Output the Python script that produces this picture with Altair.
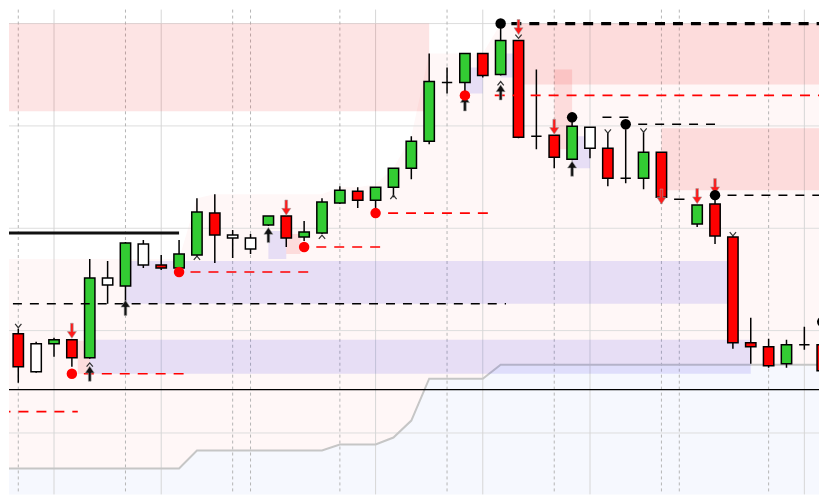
import altair as alt
import pandas as pd

# ---------------- data ----------------
bar = list(range(47))
kind = ["r", "r", "w", "g", "r", "g", "w", "g", "w", "r", "g", "g", "r", "w", "w", "g",
        "r", "g", "g", "g", "r", "g", "g", "g", "g", "w", "g", "r", "g", "r", "w", "r",
        "g", "w", "r", "w", "g", "r", "w", "g", "r", "r", "r", "r", "g", "w", "r"]
open_ = [1.1174, 1.1169, 1.1131, 1.1159, 1.1163, 1.1145, 1.1218, 1.1217, 1.1238, 1.1238,
         1.1235, 1.1248, 1.1290, 1.1265, 1.1254, 1.1278, 1.1287, 1.1266, 1.1270, 1.1300,
         1.1312, 1.1303, 1.1316, 1.1335, 1.1362, 1.1421, 1.1421, 1.1450, 1.1429, 1.1463,
         1.1367, 1.1368, 1.1344, 1.1355, 1.1355, 1.1325, 1.1325, 1.1351, 1.1304, 1.1279,
         1.1299, 1.1266, 1.1160, 1.1156, 1.1139, 1.1158, 1.1158]
high = [1.1176, 1.1174, 1.1161, 1.1165, 1.1163, 1.1244, 1.1242, 1.1261, 1.1263, 1.1248,
        1.1263, 1.1305, 1.1309, 1.1273, 1.1269, 1.1287, 1.1287, 1.1282, 1.1305, 1.1317,
        1.1316, 1.1316, 1.1335, 1.1367, 1.1450, 1.1436, 1.1450, 1.1450, 1.1476, 1.1463,
        1.1434, 1.1368, 1.1382, 1.1376, 1.1371, 1.1374, 1.1371, 1.1351, 1.1304, 1.1298,
        1.1304, 1.1267, 1.1185, 1.1164, 1.1163, 1.1176, 1.1177]
low = [1.1168, 1.1120, 1.1130, 1.1146, 1.1136, 1.1144, 1.1199, 1.1202, 1.1235, 1.1233,
       1.1234, 1.1246, 1.1240, 1.1245, 1.1249, 1.1277, 1.1256, 1.1262, 1.1269, 1.1299,
       1.1295, 1.1295, 1.1306, 1.1324, 1.1359, 1.1410, 1.1412, 1.1426, 1.1428, 1.1365,
       1.1354, 1.1335, 1.1343, 1.1345, 1.1317, 1.1320, 1.1314, 1.1299, 1.1304, 1.1276,
       1.1259, 1.1154, 1.1139, 1.1135, 1.1135, 1.1153, 1.1129]
close = [1.1169, 1.1136, 1.1159, 1.1163, 1.1145, 1.1225, 1.1225, 1.1260, 1.1259, 1.1235,
         1.1249, 1.1291, 1.1268, 1.1268, 1.1265, 1.1287, 1.1265, 1.1271, 1.1301, 1.1313,
         1.1303, 1.1316, 1.1335, 1.1362, 1.1422, 1.1421, 1.1450, 1.1428, 1.1463, 1.1366,
         1.1367, 1.1346, 1.1377, 1.1376, 1.1325, 1.1325, 1.1351, 1.1306, 1.1304, 1.1298,
         1.1267, 1.1160, 1.1156, 1.1137, 1.1158, 1.1158, 1.1132]

# cloud boundaries per bar (0..47)
cloud_bar = list(range(48))
cloud_upper = [1.1244, 1.1244, 1.1244, 1.1244, 1.1244, 1.1244, 1.1244, 1.1244, 1.1244, 1.1244,
               1.1244, 1.1305, 1.1309, 1.1309, 1.1309, 1.1309, 1.1309, 1.1309, 1.1309, 1.1316,
               1.1316, 1.1319, 1.1335, 1.1367, 1.1450, 1.1450, 1.1450, 1.1450, 1.1480, 1.1480,
               1.1480, 1.1480, 1.1480, 1.1480, 1.1480, 1.1480, 1.1480, 1.1480, 1.1480, 1.1480,
               1.1480, 1.1480, 1.1480, 1.1480, 1.1480, 1.1480, 1.1480, 1.1480]
cloud_lower = [1.1034, 1.1034, 1.1034, 1.1034, 1.1034, 1.1034, 1.1034, 1.1034, 1.1034, 1.1034,
               1.1034, 1.1052, 1.1052, 1.1052, 1.1052, 1.1052, 1.1052, 1.1052, 1.1052, 1.1058,
               1.1058, 1.1058, 1.1065, 1.1082, 1.1124, 1.1124, 1.1124, 1.1124, 1.1138, 1.1138,
               1.1138, 1.1138, 1.1138, 1.1138, 1.1138, 1.1138, 1.1138, 1.1138, 1.1138, 1.1138,
               1.1138, 1.1138, 1.1138, 1.1138, 1.1138, 1.1138, 1.1138, 1.1138]

# supply (pink) and demand (lavender) zones
zone_x0 = [-1, 29, 31, 37, 4.33, 16, 7, 5, 15, 26, 28, 32]
zone_x1 = [24, 47, 32, 47, 5, 16.8, 41, 42, 16, 27, 29, 33]
zone_top = [1.1480, 1.1480, 1.1434, 1.1375, 1.1162, 1.1269, 1.1242, 1.1163, 1.1272, 1.1436, 1.1450, 1.1367]
zone_bot = [1.1392, 1.1419, 1.1354, 1.1313, 1.1129, 1.1249, 1.1199, 1.1129, 1.1244, 1.1410, 1.1426, 1.1335]
zone_type = ["supply"] * 6 + ["demand"] * 6

# swing-high levels (black dashed)
hl_x0 = [0.7, 33.7, 35.7, 40.7]
hl_x1 = [28.3, 35.3, 40.2, 47]
hl_p = [1.1199, 1.1386, 1.1379, 1.1308]
major_x0 = [28.6]
major_x1 = [47]
major_p = [1.1480]
# swing-low levels (red dashed)
ll_x0 = [4.67, -1, 10.64, 17.68, 21.7, 27.67]
ll_x1 = [10.36, 4.33, 17.34, 21.36, 27.4, 47]
ll_p = [1.1129, 1.1091, 1.1231, 1.1256, 1.1290, 1.1408]

# swing dots
hi_dot_bar = [0, 28, 32, 35, 40, 46]
hi_dot_p = [1.1199, 1.1480, 1.1386, 1.1379, 1.1308, 1.1181]
lo_dot_bar = [4, 10, 17, 21, 26]
lo_dot_p = [1.1129, 1.1231, 1.1256, 1.1290, 1.1408]

# signal arrows
dn_bar = [4, 16, 29, 31, 37, 39, 40]
dn_p = [1.1172, 1.12955, 1.14765, 1.13765, 1.13065, 1.1307, 1.1317]
up_bar = [5, 7, 15, 26, 28, 32]
up_p = [1.1129, 1.1195, 1.1268, 1.1400, 1.1411, 1.13345]

# fractal chevrons
chev_up_bar = [5, 11, 18, 22, 28]
chev_up_p = [1.1138, 1.1245, 1.1266, 1.1306, 1.1420]
chev_dn_bar = [1, 29, 34, 36, 41]
chev_dn_p = [1.1177, 1.1467, 1.1372, 1.1373, 1.1269]

# grid
grid_p = [1.1480, 1.13774, 1.12748, 1.11722, 1.10696]
vgrid_solid = [3, 9, 21, 27, 33, 45]
vgrid_dash = [1, 7, 13, 14, 19, 25, 31, 37, 38, 43]
base_level = 1.1113
range_level = 1.1270
range_x = [-1, 10]

# ---------------- chart ----------------
xs = alt.Scale(domain=[0.48, 45.82], nice=False, zero=False)
ys = alt.Scale(domain=[1.1008, 1.1494], nice=False, zero=False)


def X(f):
    return alt.X(f, type="quantitative", scale=xs, axis=None)


def Y(f):
    return alt.Y(f, type="quantitative", scale=ys, axis=None)


candles = pd.DataFrame(dict(bar=bar, kind=kind, open=open_, high=high, low=low, close=close))
cloud = pd.DataFrame(dict(bar=cloud_bar, up=cloud_upper, lo=cloud_lower))
zones = pd.DataFrame(dict(x0=zone_x0, x1=zone_x1, top=zone_top, bot=zone_bot, t=zone_type))

pink_area = alt.Chart(cloud).mark_area(color="#fff7f7", clip=True).encode(
    x=X("bar"), y=Y("up"), y2="lo")
blue_area = alt.Chart(cloud).transform_calculate(bottom="1.09").mark_area(
    color="#f6f8fe", clip=True).encode(x=X("bar"), y=Y("lo"), y2="bottom:Q")

hgrid = alt.Chart(pd.DataFrame(dict(p=grid_p))).mark_rule(
    color="#dddddd", strokeWidth=1).encode(y=Y("p"))
vg_solid = alt.Chart(pd.DataFrame(dict(b=vgrid_solid))).mark_rule(
    color="#d6d6d6", strokeWidth=1).encode(x=X("b"))
vg_dash = alt.Chart(pd.DataFrame(dict(b=vgrid_dash))).mark_rule(
    color="#b5b5b5", strokeWidth=1, strokeDash=[3, 3]).encode(x=X("b"))

grey_line = alt.Chart(cloud).mark_line(color="#c6c6c6", strokeWidth=2, clip=True).encode(
    x=X("bar"), y=Y("lo"))

zone_layer = alt.Chart(zones).mark_rect(clip=True).encode(
    x=X("x0"), x2="x1", y=Y("top"), y2="bot",
    color=alt.Color("t:N", legend=None,
                    scale=alt.Scale(domain=["supply", "demand"],
                                    range=["rgba(236,10,10,0.11)", "rgba(40,30,225,0.115)"])))

wicks = alt.Chart(candles).mark_rule(color="black", strokeWidth=1.5, clip=True).encode(
    x=X("bar"), y=Y("low"), y2="high")
bodies = alt.Chart(candles).transform_calculate(
    l="datum.bar - 0.29", r="datum.bar + 0.29").mark_rect(
    stroke="black", strokeWidth=1.5, clip=True).encode(
    x=X("l:Q"), x2="r:Q", y=Y("open"), y2="close",
    fill=alt.Fill("kind:N", legend=None,
                  scale=alt.Scale(domain=["g", "r", "w"], range=["#33cc33", "#ff0000", "#ffffff"])))

range_line = alt.Chart(pd.DataFrame(dict(x0=[range_x[0]], x1=[range_x[1]], p=[range_level]))).mark_rule(
    color="#111111", strokeWidth=3, clip=True).encode(x=X("x0"), x2="x1", y=Y("p"))
base_line = alt.Chart(pd.DataFrame(dict(p=[base_level]))).mark_rule(
    color="black", strokeWidth=1.3).encode(y=Y("p"))

hi_levels = alt.Chart(pd.DataFrame(dict(x0=hl_x0, x1=hl_x1, p=hl_p))).mark_rule(
    color="black", strokeWidth=1.5, strokeDash=[9, 8], clip=True).encode(
    x=X("x0"), x2="x1", y=Y("p"))
major_level = alt.Chart(pd.DataFrame(dict(x0=major_x0, x1=major_x1, p=major_p))).mark_rule(
    color="black", strokeWidth=3.2, strokeDash=[10, 8], clip=True).encode(
    x=X("x0"), x2="x1", y=Y("p"))
lo_levels = alt.Chart(pd.DataFrame(dict(x0=ll_x0, x1=ll_x1, p=ll_p))).mark_rule(
    color="#ff0000", strokeWidth=1.6, strokeDash=[10, 8], clip=True).encode(
    x=X("x0"), x2="x1", y=Y("p"))

hi_dots = alt.Chart(pd.DataFrame(dict(b=hi_dot_bar, p=hi_dot_p))).mark_circle(
    color="black", size=110, opacity=1, clip=True).encode(x=X("b"), y=Y("p"))
lo_dots = alt.Chart(pd.DataFrame(dict(b=lo_dot_bar, p=lo_dot_p))).mark_circle(
    color="#ff0000", size=110, opacity=1, clip=True).encode(x=X("b"), y=Y("p"))

DOWN = "M-0.18,-1L0.18,-1L0.18,0.1L0.6,0.1L0,1L-0.6,0.1L-0.18,0.1Z"
UP = "M-0.18,1L0.18,1L0.18,-0.1L0.6,-0.1L0,-1L-0.6,-0.1L-0.18,-0.1Z"
dn_arrows = alt.Chart(pd.DataFrame(dict(b=dn_bar, p=dn_p))).mark_point(
    shape=DOWN, size=230, filled=True, fill="#ff1a1a", fillOpacity=1,
    stroke="#a0a0a0", strokeOpacity=0.6, strokeWidth=1, clip=True).encode(x=X("b"), y=Y("p"))
up_arrows = alt.Chart(pd.DataFrame(dict(b=up_bar, p=up_p))).mark_point(
    shape=UP, size=230, filled=True, fill="#111111", fillOpacity=1,
    stroke="#a0a0a0", strokeOpacity=0.6, strokeWidth=1, clip=True).encode(x=X("b"), y=Y("p"))

chev_up = alt.Chart(pd.DataFrame(dict(b=chev_up_bar, p=chev_up_p))).mark_point(
    shape="M-1,0.6L0,-0.6L1,0.6", size=40, filled=False, stroke="#333333",
    strokeWidth=1.2, opacity=1).encode(x=X("b"), y=Y("p"))
chev_dn = alt.Chart(pd.DataFrame(dict(b=chev_dn_bar, p=chev_dn_p))).mark_point(
    shape="M-1,-0.6L0,0.6L1,-0.6", size=40, filled=False, stroke="#333333",
    strokeWidth=1.2, opacity=1).encode(x=X("b"), y=Y("p"))

chart = alt.layer(
    pink_area, blue_area, hgrid, vg_solid, vg_dash, grey_line, zone_layer,
    wicks, bodies, range_line, base_line, hi_levels, major_level, lo_levels,
    up_arrows, dn_arrows, hi_dots, lo_dots, chev_up, chev_dn
).resolve_scale(color="independent", fill="independent").properties(
    width=812, height=486, padding=0, background="white"
).configure_view(stroke=None)

chart.save("out.html", embed_options={"renderer": "svg", "actions": False})
